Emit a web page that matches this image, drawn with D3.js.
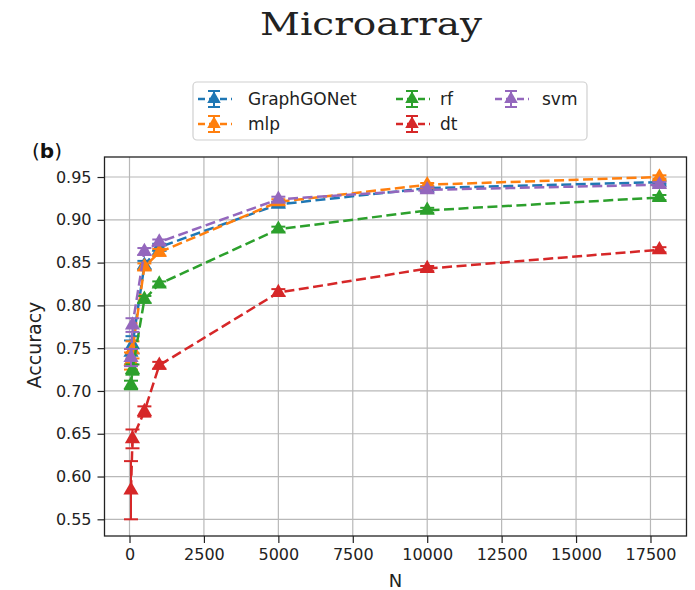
<!DOCTYPE html>
<html>
<head>
<meta charset="utf-8">
<script src="https://cdn.jsdelivr.net/npm/d3@7"></script>
<style>
  body { margin: 0; background: #fff; }
  svg { display: block; }
</style>
</head>
<body>
<script>
// training set sizes
var sizes = [50, 100, 500, 1000, 5000, 10000, 17800];

// mean accuracy per model
var graphgonetAcc = [0.745, 0.754, 0.847, 0.868, 0.918, 0.937, 0.944];
var mlpAcc        = [0.735, 0.748, 0.845, 0.862, 0.921, 0.941, 0.950];
var rfAcc         = [0.707, 0.725, 0.807, 0.825, 0.889, 0.911, 0.926];
var dtAcc         = [0.584, 0.644, 0.676, 0.730, 0.815, 0.843, 0.865];
var svmAcc        = [0.739, 0.777, 0.863, 0.874, 0.924, 0.935, 0.941];

// error bar half widths
var graphgonetErr = [0.014, 0.010, 0.005, 0.004, 0.003, 0.002, 0.002];
var mlpErr        = [0.010, 0.010, 0.004, 0.004, 0.003, 0.002, 0.002];
var rfErr         = [0.005, 0.006, 0.004, 0.003, 0.003, 0.003, 0.003];
var dtErr         = [0.034, 0.011, 0.006, 0.004, 0.004, 0.003, 0.003];
var svmErr        = [0.010, 0.008, 0.004, 0.003, 0.003, 0.003, 0.003];

var modelNames = ["GraphGONet", "mlp", "rf", "dt", "svm"];
var modelColors = ["#1f77b4", "#ff7f0e", "#2ca02c", "#d62728", "#9467bd"];
var xTicks = [0, 2500, 5000, 7500, 10000, 12500, 15000, 17500];
var yTicks = [0.55, 0.60, 0.65, 0.70, 0.75, 0.80, 0.85, 0.90, 0.95];

var series = [
  {name: modelNames[0], color: modelColors[0], acc: graphgonetAcc, err: graphgonetErr},
  {name: modelNames[1], color: modelColors[1], acc: mlpAcc, err: mlpErr},
  {name: modelNames[2], color: modelColors[2], acc: rfAcc, err: rfErr},
  {name: modelNames[3], color: modelColors[3], acc: dtAcc, err: dtErr},
  {name: modelNames[4], color: modelColors[4], acc: svmAcc, err: svmErr}
];

var width = 695, height = 590;
var svg = d3.select("body").append("svg").attr("width", width).attr("height", height);

var plotL = 104.5, plotR = 686.5, plotT = 157, plotB = 536;
var x = d3.scaleLinear().domain([-840, 18710]).range([plotL, plotR]);
var y = d3.scaleLinear().domain([0.5305, 0.9734]).range([plotB, plotT]);

// title
svg.append("text")
  .attr("x", 371).attr("y", 35)
  .attr("text-anchor", "middle")
  .attr("font-family", "DejaVu Serif")
  .attr("font-size", 32)
  .attr("textLength", 222)
  .attr("lengthAdjust", "spacingAndGlyphs")
  .attr("fill", "#222")
  .text("Microarray");

// grid
var grid = svg.append("g").attr("stroke", "#b8b8b8").attr("stroke-width", 1.2);
grid.selectAll(".gx").data(xTicks).enter().append("line")
  .attr("x1", function(d) { return x(d); }).attr("x2", function(d) { return x(d); })
  .attr("y1", plotT).attr("y2", plotB);
grid.selectAll(".gy").data(yTicks).enter().append("line")
  .attr("y1", function(d) { return y(d); }).attr("y2", function(d) { return y(d); })
  .attr("x1", plotL).attr("x2", plotR);

// axes
var xAxis = svg.append("g").attr("transform", "translate(0," + plotB + ")")
  .call(d3.axisBottom(x).tickValues(xTicks).tickFormat(d3.format("d")).tickSizeInner(7).tickSizeOuter(0).tickPadding(6));
var yAxis = svg.append("g").attr("transform", "translate(" + plotL + ",0)")
  .call(d3.axisLeft(y).tickValues(yTicks).tickFormat(d3.format(".2f")).tickSizeInner(7).tickSizeOuter(0).tickPadding(6));
[xAxis, yAxis].forEach(function(a) {
  a.select(".domain").remove();
  a.selectAll("text").attr("font-family", "DejaVu Sans").attr("font-size", 16).attr("fill", "#222");
  a.selectAll("line").attr("stroke", "#222").attr("stroke-width", 1.2);
});

svg.append("rect")
  .attr("x", plotL).attr("y", plotT).attr("width", plotR - plotL).attr("height", plotB - plotT)
  .attr("fill", "none").attr("stroke", "#222").attr("stroke-width", 1.3);

// axis labels
svg.append("text")
  .attr("x", x(8935)).attr("y", 587)
  .attr("text-anchor", "middle")
  .attr("font-family", "DejaVu Sans").attr("font-size", 18).attr("fill", "#222")
  .text("N");
svg.append("text")
  .attr("transform", "translate(41,345) rotate(-90)")
  .attr("text-anchor", "middle")
  .attr("font-family", "DejaVu Sans").attr("font-size", 19).attr("fill", "#222")
  .text("Accuracy");

svg.append("text")
  .attr("x", 32).attr("y", 158)
  .attr("font-family", "DejaVu Sans").attr("font-size", 20).attr("fill", "#111")
  .html('(<tspan font-weight="bold">b</tspan>)');

// series
var tri = d3.symbol().type(d3.symbolTriangle).size(100);
var legendTri = d3.symbol().type(d3.symbolTriangle).size(80);
var line = d3.line()
  .x(function(d) { return x(d.n); })
  .y(function(d) { return y(d.v); });

series.forEach(function(s) {
  var pts = sizes.map(function(n, i) { return {n: n, v: s.acc[i], e: s.err[i]}; });
  var g = svg.append("g");
  var eb = g.append("g").attr("stroke", s.color).attr("stroke-width", 2);
  pts.forEach(function(p) {
    var cx = x(p.n);
    eb.append("line").attr("x1", cx).attr("x2", cx).attr("y1", y(p.v - p.e)).attr("y2", y(p.v + p.e));
    eb.append("line").attr("x1", cx - 7).attr("x2", cx + 7).attr("y1", y(p.v - p.e)).attr("y2", y(p.v - p.e));
    eb.append("line").attr("x1", cx - 7).attr("x2", cx + 7).attr("y1", y(p.v + p.e)).attr("y2", y(p.v + p.e));
  });
  g.append("path").datum(pts)
    .attr("d", line)
    .attr("fill", "none")
    .attr("stroke", s.color)
    .attr("stroke-width", 2.5)
    .attr("stroke-dasharray", "10,4.5");
  g.selectAll("path.m").data(pts).enter().append("path")
    .attr("class", "m")
    .attr("d", tri)
    .attr("transform", function(d) { return "translate(" + x(d.n) + "," + y(d.v) + ")"; })
    .attr("fill", s.color);
});

// legend
var legend = svg.append("g");
legend.append("rect")
  .attr("x", 193).attr("y", 82).attr("width", 394).attr("height", 58).attr("rx", 4)
  .attr("fill", "#fff").attr("fill-opacity", 0.85).attr("stroke", "#d0d0d0").attr("stroke-width", 1.2);

var legendPos = [
  {hx: 214, tx: 248, ty: 99},
  {hx: 214, tx: 248, ty: 124},
  {hx: 412, tx: 440, ty: 99},
  {hx: 412, tx: 440, ty: 124},
  {hx: 511, tx: 542, ty: 99}
];
series.forEach(function(s, i) {
  var p = legendPos[i];
  var lg = legend.append("g").attr("stroke", s.color);
  lg.append("line").attr("x1", p.hx - 18).attr("x2", p.hx + 18).attr("y1", p.ty).attr("y2", p.ty)
    .attr("stroke-width", 2.4).attr("stroke-dasharray", "7,4").attr("stroke-dashoffset", -2);
  lg.append("line").attr("x1", p.hx).attr("x2", p.hx).attr("y1", p.ty - 8).attr("y2", p.ty + 8).attr("stroke-width", 2);
  lg.append("line").attr("x1", p.hx - 6).attr("x2", p.hx + 6).attr("y1", p.ty - 8).attr("y2", p.ty - 8).attr("stroke-width", 2);
  lg.append("line").attr("x1", p.hx - 6).attr("x2", p.hx + 6).attr("y1", p.ty + 8).attr("y2", p.ty + 8).attr("stroke-width", 2);
  lg.append("path").attr("d", legendTri).attr("transform", "translate(" + p.hx + "," + p.ty + ")")
    .attr("fill", s.color).attr("stroke", "none");
  legend.append("text")
    .attr("x", p.tx).attr("y", p.ty).attr("dy", "0.35em")
    .attr("font-family", "DejaVu Sans").attr("font-size", 17).attr("fill", "#222")
    .text(s.name);
});
</script>
</body>
</html>
